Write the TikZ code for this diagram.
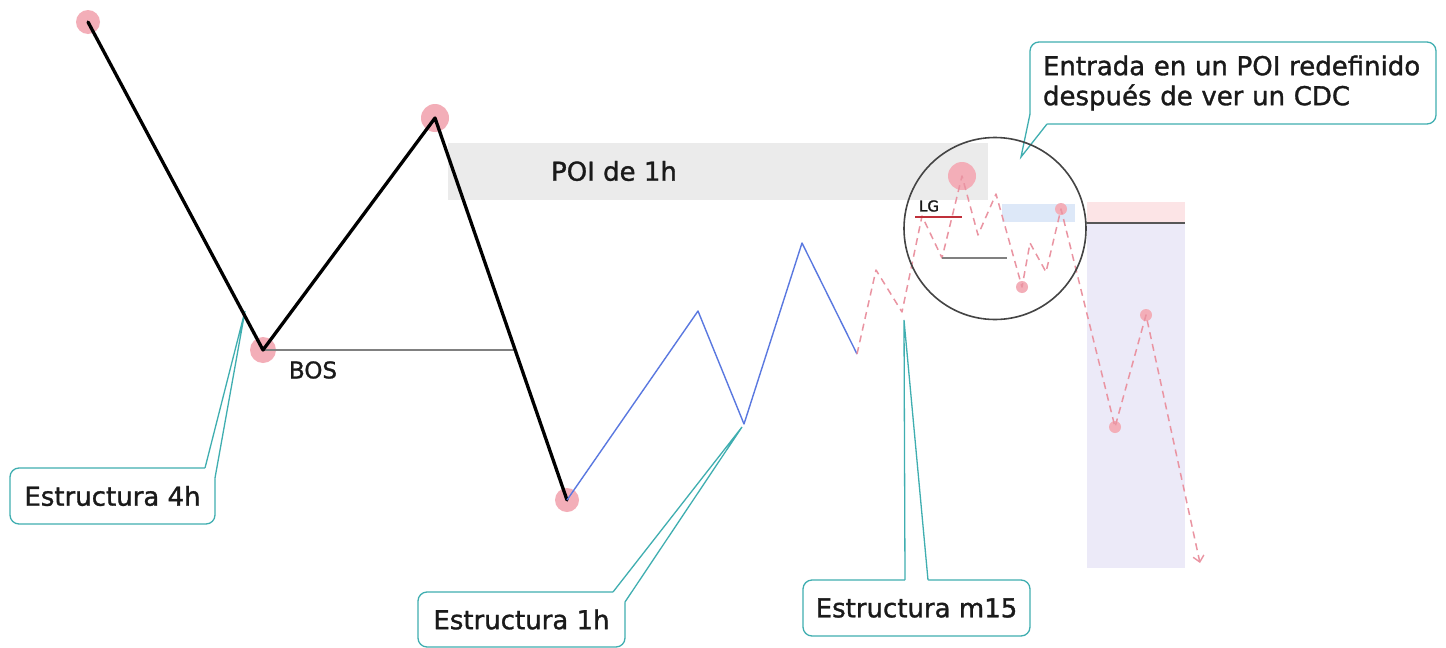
\documentclass[tikz,border=0pt]{standalone}
\usepackage{fontspec}
\setmainfont{DejaVu Sans}
\newfontfamily\medfont{DejaVu Sans}[FakeBold=1.2]
\usetikzlibrary{arrows.meta,calc}
\definecolor{tealc}{HTML}{3FAEB0}
\definecolor{txtc}{HTML}{1A1A1A}
\definecolor{poic}{HTML}{EBEBEB}
\definecolor{lavc}{HTML}{ECEAF8}
\definecolor{pinkc}{HTML}{FCE4E6}
\definecolor{lbluec}{HTML}{DDE8F8}
\definecolor{bluec}{HTML}{5A78E0}
\definecolor{dashc}{HTML}{EA94A2}
\definecolor{dotc}{HTML}{F3AEB8}
\definecolor{circc}{HTML}{444444}
\definecolor{redc}{HTML}{C0303A}
\definecolor{grayc}{HTML}{808080}
\begin{document}
\begin{tikzpicture}[x=1pt,y=-1pt,
  chart/.style={line width=3.3pt,black,line join=round,line cap=round},
  bluel/.style={line width=1.4pt,bluec,line join=round},
  pdash/.style={line width=1.5pt,dashc,dash pattern=on 7pt off 5pt,line join=round},
  dot/.style={circle,fill=dotc,inner sep=0pt,outer sep=0pt,minimum size=#1},
  callbox/.style={draw=tealc,line width=1.3pt,rounded corners=9pt,fill=white,inner sep=0pt,outer sep=0pt,font=\medfont\fontsize{26}{30}\selectfont,text=txtc},
  callline/.style={draw=tealc,line width=1.3pt,line join=miter},
  lbl/.style={font=\medfont\fontsize{#1}{#1}\selectfont,text=txtc,inner sep=0pt}
]
\useasboundingbox (0,0) rectangle (1446,648);
\fill[white] (0,0) rectangle (1446,648);

% background zones
\fill[poic] (448,143) rectangle (988,200);
\fill[lavc] (1087,223) rectangle (1185,568);
\fill[pinkc] (1087,202) rectangle (1185,223);
\fill[lbluec] (1002,204) rectangle (1075,222);

% callouts
\node[callbox,minimum width=205pt,minimum height=56pt] (c4) at (112.5,496) {Estructura 4h};
\coordinate (t4) at (245,311);
\coordinate (a4) at ($(c4.north east)+(-10,0)$);
\coordinate (b4) at ($(c4.north east)+(0,10)$);
\fill[white] ($(a4)+(0,1.5)$) -- ($(a4)+(0,-1)$) -- (t4) -- ($(b4)+(1,0)$) -- ($(b4)+(-1.5,0)$) -- cycle;
\draw[callline] (a4) -- (t4) -- (b4);

\node[callbox,minimum width=207pt,minimum height=55pt] (c1) at (521.5,619.5) {Estructura 1h};
\coordinate (t1) at (742,427);
\coordinate (a1) at ($(c1.north east)+(-12,0)$);
\coordinate (b1) at ($(c1.north east)+(0,10)$);
\fill[white] ($(a1)+(0,1.5)$) -- ($(a1)+(0,-1)$) -- (t1) -- ($(b1)+(1,0)$) -- ($(b1)+(-1.5,0)$) -- cycle;
\draw[callline] (a1) -- (t1) -- (b1);

\node[callbox,minimum width=227pt,minimum height=56pt] (cm) at (916.5,608) {Estructura m15};
\coordinate (tm) at (904,320);
\coordinate (am) at ($(cm.north west)+(102,0)$);
\coordinate (bm) at ($(cm.north west)+(125,0)$);
\fill[white] ($(am)+(0,1.5)$) -- ($(am)+(0,-1)$) -- (tm) -- ($(bm)+(0,-1)$) -- ($(bm)+(0,1.5)$) -- cycle;
\draw[callline] (am) -- (tm) -- (bm);

\node[callbox,minimum width=406pt,minimum height=82pt,text width=380pt,align=left,inner xsep=13pt] (ce) at (1233,83) {Entrada en un POI redefinido\\después de ver un CDC};
\coordinate (te) at (1021,157);
\coordinate (ae) at ($(ce.south west)+(0,-10)$);
\coordinate (be) at ($(ce.south west)+(17,0)$);
\fill[white] ($(ae)+(1.5,0)$) -- ($(ae)+(-1,0)$) -- (te) -- ($(be)+(0,1)$) -- ($(be)+(0,-1.5)$) -- cycle;
\draw[callline] (ae) -- (te) -- (be);

% dots
\node[dot=24pt] (p1) at (88,22) {};
\node[dot=26pt] (p2) at (263,350) {};
\node[dot=28pt] (p3) at (435,118) {};
\node[dot=24pt] (p4) at (567,500) {};
\node[dot=28pt] (q5) at (962,176) {};
\node[dot=12pt] (q11) at (1061,209) {};
\node[dot=12pt] (q8) at (1022,287) {};
\node[dot=12pt] (q13) at (1146,315) {};
\node[dot=12pt] (q12) at (1115,427) {};

% BOS line
\coordinate (bosend) at (515,350);
\draw[grayc,line width=2pt] (p2.center) -- (bosend);

% 4h structure
\draw[chart] (p1.center) -- (p2.center) -- (p3.center) -- (p4.center);

% 1h structure
\coordinate (b1) at (698,311);
\coordinate (b2) at (744,424);
\coordinate (b3) at (802,243);
\coordinate (m0) at (857,354);
\draw[bluel] (p4.center) -- (b1) -- (b2) -- (b3) -- (m0);

% m15 structure
\coordinate (m1) at (876,270);
\coordinate (m2) at (902,312);
\coordinate (m3) at (922,216);
\coordinate (m4) at (942,258);
\coordinate (m6) at (978,235);
\coordinate (m7) at (996,194);
\coordinate (m9) at (1030,243);
\coordinate (m10) at (1046,272);
\coordinate (m14) at (1200,563);
\draw[pdash,-{Straight Barb[length=6pt,width=11pt,line width=1.4pt]}] (m0) -- (m1) -- (m2) -- (m3) -- (m4) -- (q5.center) -- (m6) -- (m7) -- (q8.center) -- (m9) -- (m10) -- (q11.center) -- (q12.center) -- (q13.center) -- (m14);

% lines in zoom
\coordinate (lg1) at (915,217);
\coordinate (lg2) at (962,217);
\draw[redc,line width=1.5pt] (lg1) -- (lg2);
\coordinate (g2) at (1007,258);
\draw[grayc,line width=2pt] (m4) -- (g2);

% zoom circle
\node[circle,draw=circc,line width=1.6pt,minimum size=182pt,inner sep=0pt,outer sep=0pt] (zc) at (995,228.5) {};
\coordinate (h1) at (1086,223);
\coordinate (h2) at (1185,223);
\draw[circc!90,line width=1.5pt] (h1) -- (h2);

% labels
\node[lbl=26] (poi) at (614,171) {POI de 1h};
\node[lbl=23] (bos) at (313,370) {BOS};
\node[lbl=15] (lg) at (929,206) {LG};
\end{tikzpicture}
\end{document}
